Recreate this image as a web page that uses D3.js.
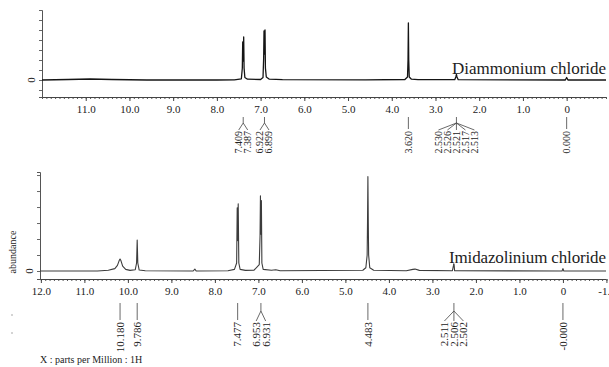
<!DOCTYPE html>
<html>
<head>
<meta charset="utf-8">
<script src="https://cdn.jsdelivr.net/npm/d3@7"></script>
<style>
  html, body { margin: 0; padding: 0; background: #fff; }
  svg { display: block; }
  text { font-family: "Liberation Serif", "DejaVu Serif", serif; fill: #222; }
</style>
</head>
<body>
<div id="chart"></div>
<script>
// 1H NMR spectra, ppm vs abundance (arbitrary units, one unit = one y tick)

// Diammonium chloride: [ppm, abundance]
const topSpectrum = [
  [12.0, 0.0], [11.4, 0.05], [10.9, 0.1], [10.4, 0.05], [9.6, 0.0], [8.0, 0.0],
  [7.6, 0.02], [7.44, 0.12], [7.418, 1.2], [7.409, 3.8], [7.401, 1.9], [7.396, 2.0],
  [7.387, 4.3], [7.378, 1.2], [7.36, 0.25], [7.3, 0.08], [7.0, 0.05],
  [6.945, 0.25], [6.930, 2.2], [6.922, 4.9], [6.913, 2.6], [6.908, 2.8],
  [6.899, 5.0], [6.890, 1.2], [6.87, 0.3], [6.8, 0.08], [6.5, 0.03], [4.6, 0.02],
  [3.7, 0.05], [3.64, 0.3], [3.628, 2.0], [3.620, 5.7], [3.612, 2.0], [3.60, 0.3],
  [3.55, 0.08], [3.4, 0.03], [2.56, 0.03], [2.535, 0.3], [2.521, 0.55], [2.508, 0.3],
  [2.48, 0.03], [0.03, 0.0], [0.0, 0.25], [-0.03, 0.0], [-0.9, 0.0]
];

// Imidazolinium chloride: [ppm, abundance]
const bottomSpectrum = [
  [12.02, 0.0], [10.7, 0.0], [10.45, 0.05], [10.3, 0.15], [10.24, 0.35], [10.2, 0.65],
  [10.18, 0.75], [10.16, 0.65], [10.12, 0.3], [10.05, 0.1], [9.95, 0.04], [9.83, 0.08],
  [9.80, 0.5], [9.786, 1.94], [9.772, 0.5], [9.74, 0.06], [9.6, 0.02], [8.5, 0.0],
  [8.46, 0.12], [8.43, 0.0], [7.7, 0.02], [7.55, 0.1], [7.50, 0.5], [7.487, 3.95],
  [7.478, 1.9], [7.472, 2.0], [7.464, 4.2], [7.45, 0.5], [7.42, 0.1], [7.3, 0.04],
  [7.1, 0.05], [6.98, 0.4], [6.962, 2.2], [6.953, 4.7], [6.945, 2.3], [6.940, 2.4],
  [6.931, 4.4], [6.92, 0.5], [6.89, 0.1], [6.7, 0.05], [6.6, 0.08], [6.5, 0.02],
  [4.6, 0.05], [4.53, 0.2], [4.50, 1.0], [4.492, 3.0], [4.483, 5.9], [4.474, 3.0],
  [4.466, 1.0], [4.44, 0.2], [4.35, 0.05], [3.6, 0.02], [3.45, 0.1], [3.4, 0.12],
  [3.3, 0.04], [2.54, 0.02], [2.515, 0.35], [2.511, 0.45], [2.506, 0.45], [2.502, 0.4],
  [2.49, 0.02], [0.02, 0.0], [0.0, 0.15], [-0.02, 0.0], [-0.99, 0.0]
];

// peak picking: stem position and the values printed under it
const topPeaks = [
  { at: 7.398, labels: ["7.409", "7.387"] },
  { at: 6.911, labels: ["6.922", "6.899"] },
  { at: 3.620, labels: ["3.620"] },
  { at: 2.521, labels: ["2.530", "2.526", "2.521", "2.517", "2.513"] },
  { at: 0.000, labels: ["0.000"] }
];
const bottomPeaks = [
  { at: 10.180, labels: ["10.180"] },
  { at: 9.786, labels: ["9.786"] },
  { at: 7.477, labels: ["7.477"] },
  { at: 6.942, labels: ["6.953", "6.931"] },
  { at: 4.483, labels: ["4.483"] },
  { at: 2.506, labels: ["2.511", "2.506", "2.502"] },
  { at: 0.000, labels: ["-0.000"] }
];

const topTicks = [11, 10, 9, 8, 7, 6, 5, 4, 3, 2, 1, 0];
const bottomTicks = [12, 11, 10, 9, 8, 7, 6, 5, 4, 3, 2, 1, 0, -1];

const width = 609, height = 367;

const svg = d3.select("#chart").append("svg")
  .attr("width", width)
  .attr("height", height);

function panel(cfg) {
  const x = d3.scaleLinear().domain(cfg.xDomain).range([cfg.left, 606]);
  const y = d3.scaleLinear().domain(cfg.yDomain).range([cfg.axisY, cfg.top]);
  const g = svg.append("g");

  // minor ticks every 0.1 ppm
  const minor = d3.range(Math.round(cfg.xDomain[1] * 10), Math.round(cfg.xDomain[0] * 10) + 1)
    .map(d => d / 10);
  g.append("g")
    .attr("transform", `translate(0,${cfg.axisY})`)
    .call(d3.axisBottom(x).tickValues(minor).tickSize(2).tickFormat(""))
    .call(a => a.select(".domain").remove())
    .selectAll("line").attr("stroke", "#555");

  const xAxis = g.append("g")
    .attr("transform", `translate(0,${cfg.axisY})`)
    .call(d3.axisBottom(x).tickValues(cfg.ticks).tickSize(4).tickPadding(4)
      .tickFormat(d => d === 0 ? "0" : d3.format(".1f")(d).replace("−", "-")));
  xAxis.select(".domain").attr("stroke", "#444").attr("d", `M${cfg.left},0.5H606`);
  xAxis.selectAll("line").attr("stroke", "#444");
  xAxis.selectAll("text")
    .attr("font-size", 11)
    .attr("fill", "#222");

  // y axis, only the zero labelled
  const yAxis = g.append("g")
    .attr("transform", `translate(${cfg.left},0)`)
    .call(d3.axisLeft(y).tickValues(d3.range(Math.ceil(cfg.yDomain[0]), Math.floor(cfg.yDomain[1]) + 1))
      .tickSize(3).tickFormat(""));
  yAxis.select(".domain").attr("stroke", "#555");
  yAxis.selectAll("line").attr("stroke", "#666");

  g.append("text")
    .attr("transform", `translate(${cfg.left - 7},${y(0)}) rotate(-90)`)
    .attr("text-anchor", "middle")
    .attr("font-size", 11)
    .text("0");

  const line = d3.line().x(d => x(d[0])).y(d => y(d[1]));
  g.append("path")
    .datum(cfg.data)
    .attr("fill", "none")
    .attr("stroke", cfg.color)
    .attr("stroke-width", cfg.lineW)
    .attr("stroke-linejoin", "round")
    .attr("d", line);

  g.append("text")
    .attr("x", 606)
    .attr("y", cfg.nameY)
    .attr("text-anchor", "end")
    .attr("font-size", 17)
    .attr("textLength", cfg.nameW)
    .text(cfg.name);

  // peak labels under the axis
  const ann = g.append("g").attr("stroke", "#444").attr("stroke-width", 0.8).attr("fill", "none");
  cfg.peaks.forEach(p => {
    const sx = x(p.at);
    const n = p.labels.length;
    ann.append("line").attr("x1", sx).attr("x2", sx)
      .attr("y1", cfg.stemTop).attr("y2", n === 1 ? cfg.textTop - 2 : cfg.stemMid);
    p.labels.forEach((lab, i) => {
      const lx = n === 1 ? sx : sx + (i - (n - 1) / 2) * cfg.spacing;
      if (n > 1) {
        ann.append("line").attr("x1", sx).attr("y1", cfg.stemMid)
          .attr("x2", lx).attr("y2", cfg.textTop - 1);
      }
      g.append("text")
        .attr("transform", `translate(${lx + cfg.labelSize * 0.35},${cfg.textTop}) rotate(-90)`)
        .attr("text-anchor", "end")
        .attr("font-size", cfg.labelSize)
        .text(lab);
    });
  });
}

panel({
  data: topSpectrum, xDomain: [12.0, -0.9], yDomain: [-1.7, 7], left: 42,
  top: 10, axisY: 97, ticks: topTicks, color: "#151515", lineW: 1.3,
  name: "Diammonium chloride", nameY: 74, nameW: 154,
  peaks: topPeaks, stemTop: 117, stemMid: 123, textTop: 131, spacing: 9, labelSize: 10
});

panel({
  data: bottomSpectrum, xDomain: [12.02, -0.99], yDomain: [-0.5, 6.19], left: 40,
  top: 172, axisY: 279, ticks: bottomTicks, color: "#3c3c3c", lineW: 1.1,
  name: "Imidazolinium chloride", nameY: 263, nameW: 157,
  peaks: bottomPeaks, stemTop: 303, stemMid: 311, textTop: 322, spacing: 9.5, labelSize: 11
});

svg.append("text")
  .attr("transform", "translate(16,252) rotate(-90)")
  .attr("text-anchor", "middle")
  .attr("font-size", 10)
  .text("abundance");

svg.append("text")
  .attr("x", 40)
  .attr("y", 363)
  .attr("font-size", 10)
  .text("X : parts per Million : 1H");

// stray dots at the left margin
svg.selectAll("circle.dot")
  .data([315, 333])
  .join("circle")
  .attr("class", "dot")
  .attr("cx", 12).attr("cy", d => d).attr("r", 0.7)
  .attr("fill", "#888");
</script>
</body>
</html>
